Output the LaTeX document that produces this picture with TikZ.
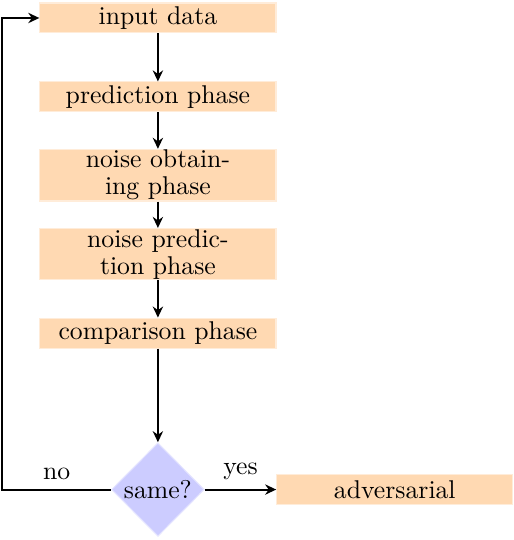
\documentclass[tikz,border=0pt]{standalone}
\usepackage{tikz}
\usetikzlibrary{shapes.geometric, arrows.meta, positioning}
\tikzset{
	phasebox/.style={rectangle, draw=orange!15, fill=orange!30, align=center,
		minimum width=3.23cm, minimum height=0.41cm, inner ysep=0.3pt,
		font=\fontsize{10pt}{10.5pt}\selectfont}
}
\tikzset{
	decisionbox/.style={diamond, draw=blue!10, fill=blue!20, aspect=1,
		inner sep=0pt, minimum width=1.27cm, minimum height=1.28cm}
}
\begin{document}
\begin{tikzpicture}[>={Stealth[length=4.3pt, width=4pt, inset=1.4pt]}]
      \useasboundingbox (-2.16,0.246) rectangle (4.87,-7.14);
      \node[phasebox] (input) at (0,0) {input data};
      \node[phasebox] (predict) at (0,-1.08) {prediction phase};
      \node[phasebox] (obtain) at (0,-2.15) {noise obtain-\\ing phase};
      \node[phasebox] (noisepred) at (0,-3.23) {noise predic-\\tion phase};
      \node[phasebox] (compare) at (0,-4.31) {comparison phase};
      \node[decisionbox] (same) at (0,-6.45) {same?};
      \node[phasebox] (adv) at (3.24,-6.45) {adversarial};
      \coordinate (back) at (-2.13,-6.45);
      \draw[->, thick] (input) -- (predict);
      \draw[->, thick] (predict) -- (obtain);
      \draw[->, thick] (obtain) -- (noisepred);
      \draw[->, thick] (noisepred) -- (compare);
      \draw[->, thick] (compare) -- (same);
      \draw[->, thick] (same) -- node[above] {yes} (adv);
      \draw[->, thick] (same) -- node[above] {no} (back) |- (input);
    \end{tikzpicture}
\end{document}
